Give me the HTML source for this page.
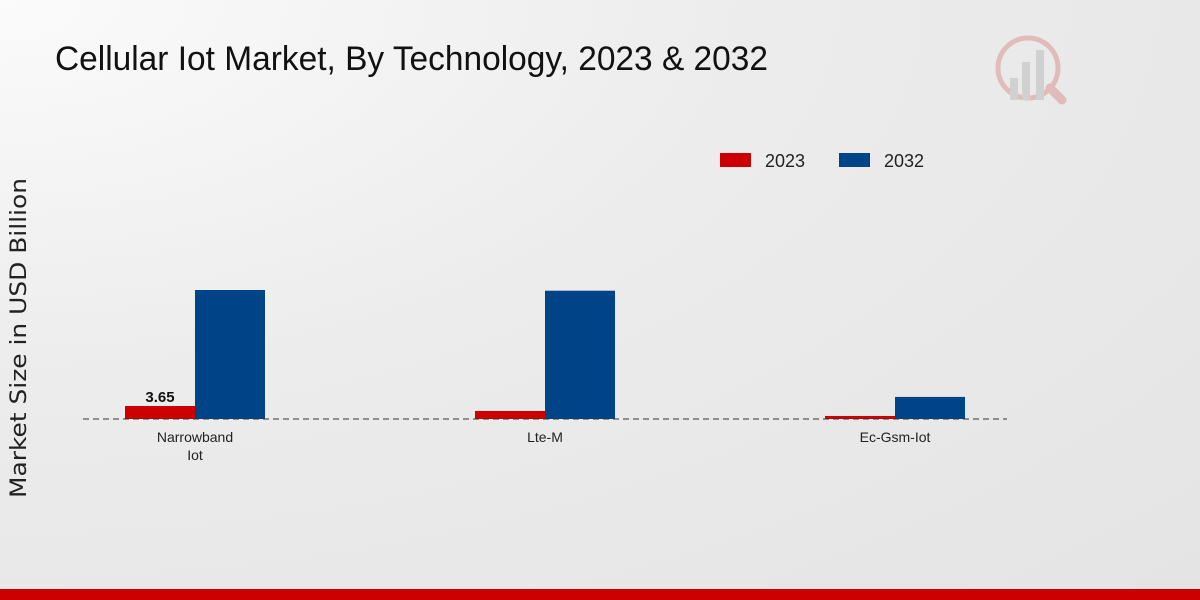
<!DOCTYPE html>
<html><head><meta charset="utf-8"><style>
body{margin:0;width:1200px;height:600px;overflow:hidden;font-family:"Liberation Sans",sans-serif;}
#bg{position:absolute;left:0;top:0;width:1200px;height:600px;background:radial-gradient(ellipse at 0% 0%,#fbfbfb 0%,#ececec 45%,#e4e4e4 100%);}
</style></head><body>
<div id="bg"></div>
<svg id="chart" width="1200" height="600" style="position:absolute;left:0;top:0">
<text x="55" y="70" font-family="Liberation Sans Narrow, Liberation Sans, sans-serif" font-size="34" fill="#111" textLength="713" lengthAdjust="spacingAndGlyphs">Cellular Iot Market, By Technology, 2023 &amp; 2032</text>
<text transform="translate(26,338) rotate(-90)" text-anchor="middle" font-family="DejaVu Sans, sans-serif" font-size="22" fill="#222" textLength="320" lengthAdjust="spacingAndGlyphs">Market Size in USD Billion</text>
<g>
<rect x="720" y="153" width="31" height="14" fill="#cc0000"/>
<text x="765" y="167" font-size="18" fill="#222">2023</text>
<rect x="839" y="153" width="31" height="14" fill="#004488"/>
<text x="884" y="167" font-size="18" fill="#222">2032</text>
</g>
<g opacity="0.25">
<circle cx="1028" cy="68" r="30" fill="none" stroke="#c33" stroke-width="5"/>
<rect x="1010" y="78" width="8" height="22" fill="#888"/><rect x="1022" y="62" width="8" height="38" fill="#888"/><rect x="1036" y="50" width="8" height="50" fill="#888"/>
<line x1="1050" y1="88" x2="1062" y2="100" stroke="#c33" stroke-width="9" stroke-linecap="round"/>
</g>
<g id="plot"></g>
<rect x="0" y="589" width="1200" height="11" fill="#cc0000"/>
</svg>
<script>
const categories=["Narrowband Iot","Lte-M","Ec-Gsm-Iot"];
const values2023=[3.65,2.25,0.85];
const values2032=[36.2,36.0,6.2];
const shownLabels=["3.65","",""];
const ns="http://www.w3.org/2000/svg";
const g=document.getElementById('plot');
const baseY=419, pxPer=129/36.2;
const xCenter=i=>195+i*350;
const yPx=v=>baseY-v*pxPer;
function mk(t,a){const e=document.createElementNS(ns,t);for(const k in a)e.setAttribute(k,a[k]);g.appendChild(e);return e;}
categories.forEach((c,i)=>{
  const cx=xCenter(i);
  let r=mk('rect',{x:cx-70,y:yPx(values2023[i]),width:70,height:baseY-yPx(values2023[i]),fill:'#cc0000'});
  
  
  r=mk('rect',{x:cx,y:yPx(values2032[i]),width:70,height:baseY-yPx(values2032[i]),fill:'#004488'});
  
  
  if(shownLabels[i]){const t=mk('text',{x:cx-35,y:yPx(values2023[i])-4,'text-anchor':'middle','font-size':15,'font-weight':'bold',fill:'#111'});t.textContent=shownLabels[i];
  
  }
  const words=c==="Narrowband Iot"?["Narrowband","Iot"]:[c];
  words.forEach((w,j)=>{const t=mk('text',{x:cx,y:442+j*18,'text-anchor':'middle','font-size':14,fill:'#222'});t.textContent=w;
  
  });
});
const ax=mk('line',{x1:83,y1:baseY,x2:1007,y2:baseY,stroke:'#333','stroke-dasharray':'6,4','stroke-width':1});


</script>
</body></html>
